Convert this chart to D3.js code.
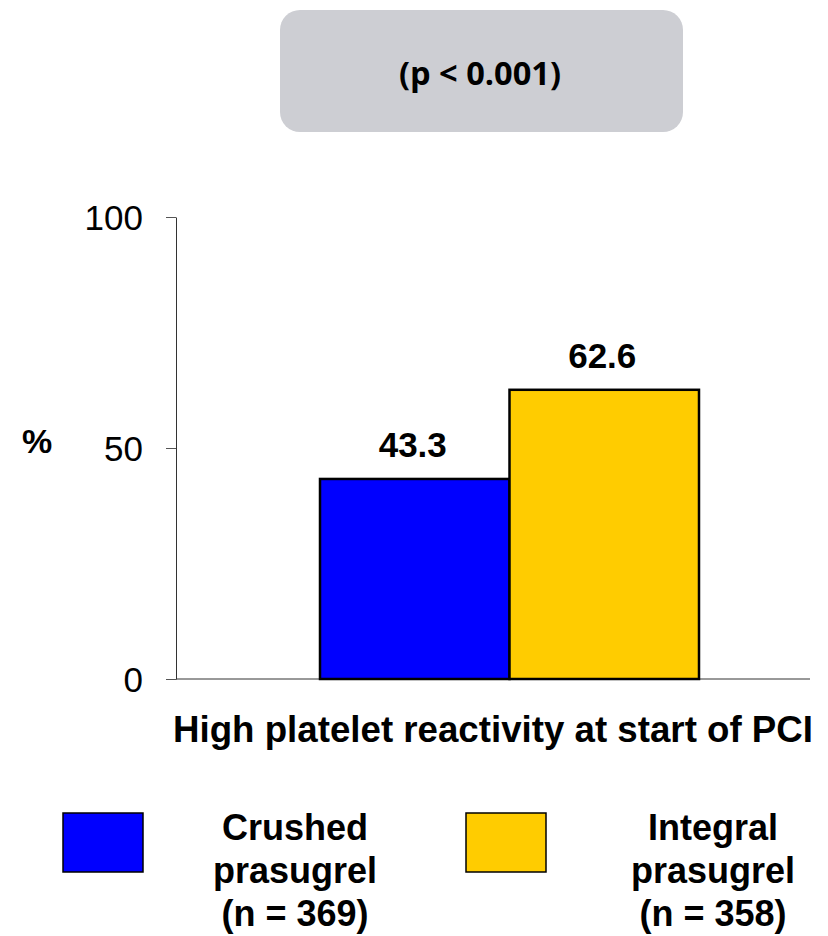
<!DOCTYPE html>
<html>
<head>
<meta charset="utf-8">
<script src="https://cdn.jsdelivr.net/npm/d3@7"></script>
<style>
  html, body { margin: 0; padding: 0; background: #fff; }
  svg { display: block; }
</style>
</head>
<body>
<svg id="chart" width="828" height="936"></svg>
<script>
// ---- data ----
const categories = ["Crushed prasugrel", "Integral prasugrel"];
const sampleSizes = [369, 358];
const values = [43.3, 62.6];
const colors = ["#0000FF", "#FFCC00"];
const yTicks = [0, 50, 100];
const groupLabel = "High platelet reactivity at start of PCI";
const pText = "(p < 0.001)";
const yLabel = "%";

const svg = d3.select("#chart");
const font = "'Liberation Sans', Arial, sans-serif";

// p-value box
svg.append("rect")
  .attr("x", 280).attr("y", 10)
  .attr("width", 403).attr("height", 122)
  .attr("rx", 20).attr("ry", 20)
  .attr("fill", "#CDCED3");
svg.append("text")
  .attr("x", 399).attr("y", 85)
  .attr("font-family", "'Open Sans', 'Noto Sans', sans-serif")
  .attr("font-weight", 700)
  .attr("font-size", 32)
  .attr("textLength", 162)
  .attr("lengthAdjust", "spacingAndGlyphs")
  .attr("fill", "#000")
  .text(pText);

// scales
const y = d3.scaleLinear().domain([0, 100]).range([679, 217]);
const x = d3.scaleBand().domain(categories).range([320, 699]).padding(0);
const axisX = 176;

// baseline
svg.append("line")
  .attr("x1", axisX).attr("x2", 810)
  .attr("y1", y(0)).attr("y2", y(0))
  .attr("stroke", "#333").attr("stroke-width", 1);

// y axis
const yAxis = d3.axisLeft(y).tickValues(yTicks).tickSize(10).tickSizeOuter(0).tickPadding(23)
  .tickFormat(d3.format("d"));
const gy = svg.append("g").attr("transform", `translate(${axisX},0)`).call(yAxis);
gy.select(".domain").attr("stroke", "#333").attr("stroke-width", 1);
gy.selectAll(".tick line").attr("stroke", "#555").attr("stroke-width", 1);
gy.selectAll(".tick text")
  .attr("font-family", font)
  .attr("font-size", 35)
  .attr("fill", "#000")
  .attr("dy", "0.36em");

// y label
svg.append("text")
  .attr("x", 37).attr("y", 453)
  .attr("text-anchor", "middle")
  .attr("font-family", font)
  .attr("font-weight", "bold")
  .attr("font-size", 34)
  .text(yLabel);

// bars
svg.selectAll("rect.bar")
  .data(values)
  .enter().append("rect")
  .attr("class", "bar")
  .attr("x", (d, i) => x(categories[i]))
  .attr("y", d => y(d))
  .attr("width", x.bandwidth())
  .attr("height", d => y(0) - y(d))
  .attr("fill", (d, i) => colors[i])
  .attr("stroke", "#000")
  .attr("stroke-width", 2.5);

// value labels
svg.selectAll("text.val")
  .data(values)
  .enter().append("text")
  .attr("class", "val")
  .attr("x", (d, i) => x(categories[i]) + x.bandwidth() / 2 - 2)
  .attr("y", d => y(d) - 22)
  .attr("text-anchor", "middle")
  .attr("font-family", font)
  .attr("font-weight", "bold")
  .attr("font-size", 35)
  .text(d => d.toFixed(1));

// group label
svg.append("text")
  .attr("x", 173).attr("y", 742)
  .attr("font-family", font)
  .attr("font-weight", "bold")
  .attr("font-size", 36)
  .attr("textLength", 640)
  .attr("lengthAdjust", "spacingAndGlyphs")
  .text(groupLabel);

// legend
const legendSwatchX = [63, 466];
const legendTextX = [295, 713];
categories.forEach((c, i) => {
  svg.append("rect")
    .attr("x", legendSwatchX[i]).attr("y", 813)
    .attr("width", 80).attr("height", 59)
    .attr("fill", colors[i])
    .attr("stroke", "#000").attr("stroke-width", 1.5);
  const words = c.split(" ");
  const lines = [words[0], words.slice(1).join(" "), `(n = ${sampleSizes[i]})`];
  const t = svg.append("text")
    .attr("text-anchor", "middle")
    .attr("font-family", font)
    .attr("font-weight", "bold")
    .attr("font-size", 36);
  lines.forEach((ln, j) => {
    t.append("tspan")
      .attr("x", legendTextX[i])
      .attr("y", 840 + j * 43)
      .text(ln);
  });
});
</script>
</body>
</html>
